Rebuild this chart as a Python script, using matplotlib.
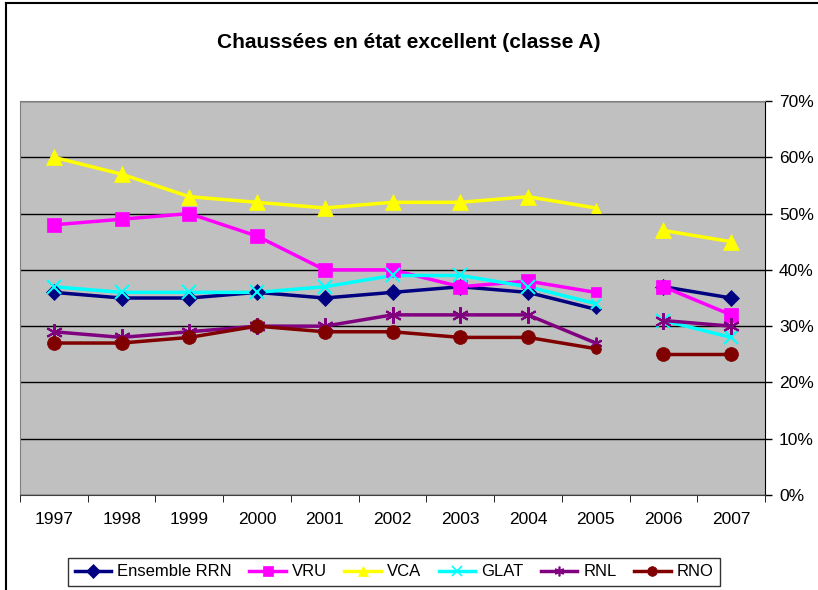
import matplotlib.pyplot as plt
import numpy as np
from matplotlib.lines import Line2D

plt.rcParams['font.family'] = ['Liberation Sans', 'DejaVu Sans']

years = ['1997', '1998', '1999', '2000', '2001', '2002', '2003', '2004', '2005', '2006', '2007']

ensemble_rrn = [36, 35, 35, 36, 35, 36, 37, 36, 33, 37, 35]
vru = [48, 49, 50, 46, 40, 40, 37, 38, 36, 37, 32]
vca = [60, 57, 53, 52, 51, 52, 52, 53, 51, 47, 45]
glat = [37, 36, 36, 36, 37, 39, 39, 37, 34, 31, 28]
rnl = [29, 28, 29, 30, 30, 32, 32, 32, 27, 31, 30]
rno = [27, 27, 28, 30, 29, 29, 28, 28, 26, 25, 25]

series = [
    ('Ensemble RRN', ensemble_rrn, '#000080', 'D', 8),
    ('VRU', vru, '#FF00FF', 's', 10),
    ('VCA', vca, '#FFFF00', '^', 11),
    ('GLAT', glat, '#00FFFF', 'x', 10),
    ('RNL', rnl, '#800080', (6, 2, 0), 12),
    ('RNO', rno, '#800000', 'o', 10),
]

fig = plt.figure(figsize=(8.18, 5.9), dpi=100)
ax = fig.add_axes([20 / 818, 1 - 495 / 590, 745 / 818, 394 / 590])
ax.set_facecolor('#C0C0C0')

x = np.arange(len(years))
# the series break between 2005 and 2006
segments = [slice(0, 9), slice(9, 11)]
small = 8  # 2005 markers are drawn smaller

handles = []
for name, vals, color, marker, ms in series:
    vals = np.array(vals, dtype=float)
    mew = 1.5 if marker in ('x', (6, 2, 0)) else 0.5
    for seg in segments:
        ax.plot(x[seg], vals[seg], color=color, lw=2.5, zorder=3)
    big = [i for i in range(len(years)) if i != small]
    ax.plot(x[big], vals[big], ls='none', marker=marker, markersize=ms,
            color=color, markeredgecolor=color, markeredgewidth=mew, zorder=4)
    ax.plot(x[small], vals[small], ls='none', marker=marker, markersize=ms * 0.7,
            color=color, markeredgecolor=color, markeredgewidth=mew, zorder=4)
    handles.append(Line2D([], [], color=color, lw=2.5, marker=marker,
                          markersize=7, markeredgecolor=color,
                          markeredgewidth=1.2 if marker in ('x', (6, 2, 0)) else 0.5,
                          label=name))

ax.set_xlim(-0.5, len(years) - 0.5)
ax.set_ylim(0, 70)
ax.set_yticks(np.arange(0, 71, 10))
ax.set_yticklabels(['%d%%' % v for v in range(0, 71, 10)], fontsize=12.5)
ax.yaxis.tick_right()
ax.tick_params(axis='y', direction='out', length=5, width=1, pad=5, color='black')
ax.grid(axis='y', color='black', lw=1, zorder=1)

ax.set_xticks(x)
ax.set_xticklabels(years, fontsize=12.5)
ax.tick_params(axis='x', length=0, pad=12)
ax.set_xticks(np.arange(-0.5, len(years), 1), minor=True)
ax.tick_params(axis='x', which='minor', length=5, direction='out', color='black')

for side in ['left', 'top']:
    ax.spines[side].set_color('#808080')
ax.spines['bottom'].set_color('#404040')
ax.spines['right'].set_color('black')

fig.text(0.5, 1 - 42 / 590, 'Chaussées en état excellent (classe A)',
         ha='center', va='center', fontsize=15, fontweight='bold')

leg = fig.legend(handles=handles, loc='center', bbox_to_anchor=(394 / 818, 1 - 572 / 590),
                 ncol=6, fontsize=12, frameon=True, fancybox=False,
                 edgecolor='black', handlelength=2.2, handletextpad=0.35,
                 columnspacing=1.05, borderpad=0.4)
leg.get_frame().set_linewidth(1)

# outer chart frame
fig.add_artist(plt.Line2D([6 / 818, 6 / 818], [0, 1 - 3 / 590], color='black', lw=1.5))
fig.add_artist(plt.Line2D([6 / 818, 1], [1 - 3 / 590, 1 - 3 / 590], color='black', lw=1.5))

fig.savefig('out.png', dpi=100)
